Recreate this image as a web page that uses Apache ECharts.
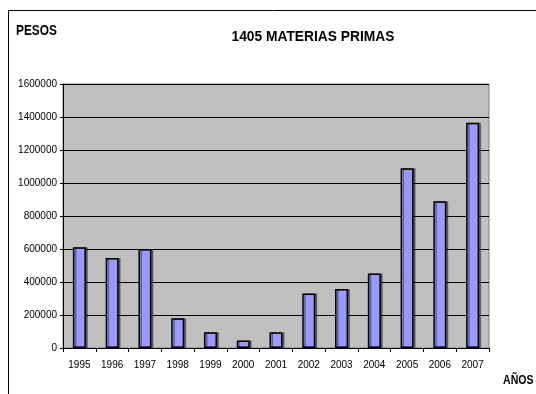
<!DOCTYPE html>
<html><head><meta charset="utf-8">
<script src="https://cdn.jsdelivr.net/npm/echarts@6/dist/echarts.min.js"></script>
<style>html,body{margin:0;padding:0;background:#fff}#c{width:536px;height:394px}</style>
</head><body><div id="c"></div>
<script>
const years = ['1995','1996','1997','1998','1999','2000','2001','2002','2003','2004','2005','2006','2007'];
const pesos = [610000,545000,600000,180000,95000,45000,95000,330000,357000,452000,1090000,890000,1365000];
const yTicks = [0,200000,400000,600000,800000,1000000,1200000,1400000,1600000];
const titleText = '1405 MATERIAS PRIMAS';
const yName = 'PESOS';
const xName = 'AÑOS';

const chart = echarts.init(document.getElementById('c'), null, {renderer:'canvas'});
const F = 'Liberation Sans, Arial, sans-serif';
chart.setOption({
  animation:false,
  backgroundColor:'#fff',
  grid:{left:63, top:84, width:426, height:264, show:true, backgroundColor:'#C0C0C0', borderColor:'#808080', borderWidth:1},
  graphic:[
    {type:'rect', shape:{x:8.5,y:10.5,width:600,height:500}, style:{fill:null, stroke:'#000', lineWidth:1}, silent:true, z:-1},
    {type:'text', x:313, y:37, scaleX:0.92, style:{text:titleText, font:'bold 15px '+F, fill:'#000', textAlign:'center', textVerticalAlign:'middle'}},
    {type:'text', x:16, y:31, scaleX:0.85, style:{text:yName, font:'bold 14px '+F, fill:'#000', textAlign:'left', textVerticalAlign:'middle'}},
    {type:'text', x:503, y:381, scaleX:0.88, style:{text:xName, font:'bold 12px '+F, fill:'#000', textAlign:'left', textVerticalAlign:'middle'}}
  ],
  xAxis:{type:'category', data:years,
    axisLine:{lineStyle:{color:'#000', width:1}},
    axisTick:{show:true, alignWithLabel:false, length:4, lineStyle:{color:'#000'}},
    axisLabel:{color:'#000', fontFamily:F, fontSize:10, margin:12}
  },
  yAxis:{type:'value', min:yTicks[0], max:yTicks[yTicks.length-1], interval:200000,
    axisLine:{show:true, lineStyle:{color:'#000', width:1}},
    axisTick:{show:true, length:3, lineStyle:{color:'#000'}},
    splitLine:{show:true, lineStyle:{color:'#000', width:1}},
    axisLabel:{color:'#000', fontFamily:F, fontSize:10, margin:6, formatter:function(v){return String(v);}}
  },
  series:[{type:'bar', data:pesos, barWidth:13,
    itemStyle:{color:'#9999FF', borderColor:'#000', borderWidth:1.5, shadowColor:'rgba(0,0,0,0.4)', shadowOffsetX:2, shadowOffsetY:0, shadowBlur:0}
  }]
});
</script></body></html>
